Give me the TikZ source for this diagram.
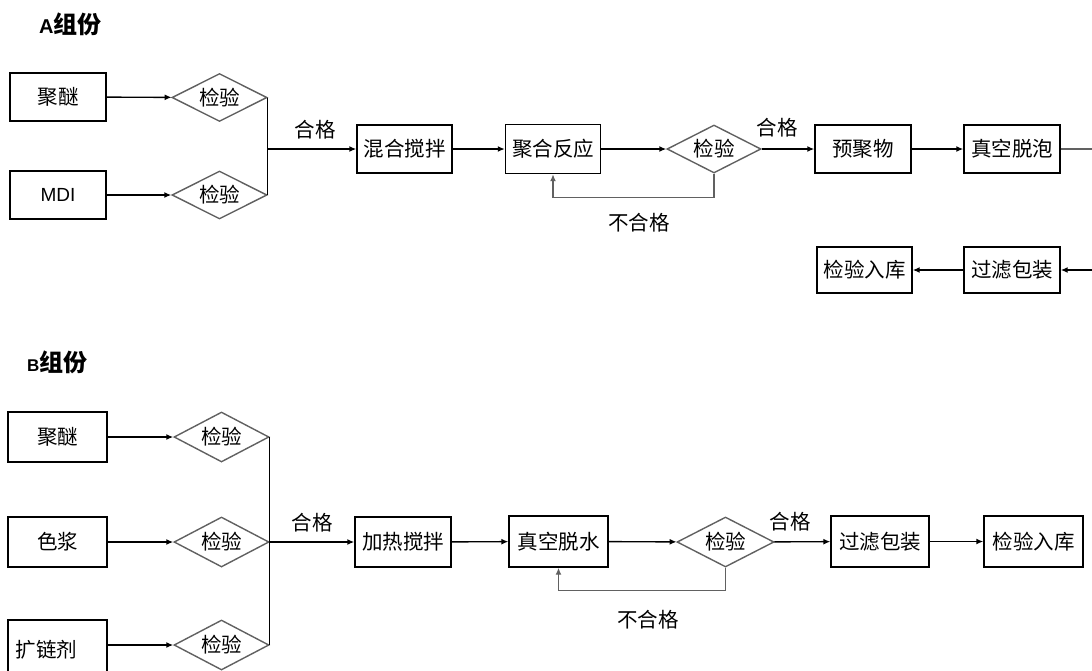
\documentclass[tikz,border=0pt]{standalone}
\usepackage{fontspec}
\setmainfont{Noto Sans CJK SC}
\newfontfamily\lat{Liberation Sans}
\usetikzlibrary{shapes.geometric,arrows.meta}
\begin{document}
\begin{tikzpicture}[x=1pt,y=-1pt,
  box/.style={draw=black,line width=1.4pt,minimum width=96pt,minimum height=48pt,inner sep=0pt,font=\fontsize{20.5}{24}\selectfont},
  chk/.style={diamond,draw=black!62,line width=1.4pt,aspect=2,minimum width=95pt,minimum height=48pt,inner sep=0pt,font=\fontsize{20.5}{24}\selectfont},
  lbl/.style={font=\fontsize{20.5}{24}\selectfont,inner sep=0pt},
  ttl/.style={font=\bfseries\fontsize{24}{28}\selectfont,inner sep=0pt,anchor=west},
  ar/.style={-{Latex[length=7pt,width=6pt]},line width=1.4pt},
  ln/.style={line width=1.4pt},
  fb/.style={ar,draw=black!62},
]
\useasboundingbox (0,0) rectangle (1092,670);
\fill[white] (0,0) rectangle (1092,670);

% ---------- A ----------
\node[ttl] (tA) at (39,24) {{\lat\fontsize{20}{22}\selectfont A}组份};
\node[box] (pA) at (58,97) {聚醚};
\node[box] (mA) at (58,195) {\lat\fontsize{19}{22}\selectfont MDI};
\node[chk] (cA1) at (219.5,97.5) {检验};
\node[chk] (cA2) at (219.5,195) {检验};
\node[box,minimum width=95pt] (hA) at (404.5,149) {混合搅拌};
\node[box,minimum width=95pt,minimum height=49pt] (jA) at (553,149) {聚合反应};
\node[chk,minimum width=94pt] (cA3) at (714,149) {检验};
\node[box] (yA) at (863,149) {预聚物};
\node[box] (zA) at (1012,149) {真空脱泡};
\node[box,minimum height=46pt] (gA) at (1012,270) {过滤包装};
\node[box,minimum height=46pt,minimum width=95pt] (rA) at (864.5,270) {检验入库};
\coordinate (eA1) at (1092,149);
\coordinate (eA2) at (1092,270);
\node[lbl] (qA1) at (315,130) {合格};
\node[lbl] (qA2) at (777,128) {合格};
\node[lbl] (nA) at (639,223) {不合格};

\draw[ar] (pA) -- (cA1);
\draw[ar] (mA) -- (cA2);
\draw[ln] (cA1.east) -- (cA2.east);
\draw[ar] (cA1.east |- hA) -- (hA);
\draw[ar] (hA) -- (jA);
\draw[ar] (jA) -- (cA3);
\draw[fb] (cA3.south) -- ++(0,24) -| (jA.south);
\draw[ar] (cA3) -- (yA);
\draw[ar] (yA) -- (zA);
\draw[ln,draw=black!62] (zA) -- (eA1);
\draw[ar] (eA2) -- (gA);
\draw[ar] (gA) -- (rA);

% ---------- B ----------
\node[ttl] (tB) at (27,362) {{\lat\fontsize{17}{20}\selectfont B}组份};
\node[box,minimum width=99pt,minimum height=50pt] (pB) at (57.5,437) {聚醚};
\node[box,minimum width=99pt,minimum height=50pt] (sB) at (57.5,542) {色浆};
\node[box,minimum width=99pt,minimum height=60pt,text width=83pt,inner xsep=8pt,align=left] (kB) at (57.5,650) {扩链剂};
\node[chk,minimum height=50pt] (cB1) at (221.5,437) {检验};
\node[chk,minimum height=50pt] (cB2) at (221.5,542) {检验};
\node[chk,minimum height=50pt] (cB3) at (221.5,645) {检验};
\node[box,minimum height=50pt] (hB) at (403,542) {加热搅拌};
\node[box,minimum width=99pt,minimum height=51pt] (zB) at (558.5,541.5) {真空脱水};
\node[chk,minimum width=97pt,minimum height=50pt] (cB4) at (725.5,542) {检验};
\node[box,minimum width=98pt,minimum height=51pt] (gB) at (880,541.5) {过滤包装};
\node[box,minimum width=99pt,minimum height=51pt] (rB) at (1033.5,541.5) {检验入库};
\node[lbl] (qB1) at (312,523) {合格};
\node[lbl] (qB2) at (790,522) {合格};
\node[lbl] (nB) at (648,620) {不合格};

\draw[ar] (pB) -- (cB1);
\draw[ar] (sB) -- (cB2);
\draw[ar] (kB.east |- cB3) -- (cB3);
\draw[ln] (cB1.east) -- (cB3.east);
\draw[ar] (cB2.east) -- (hB);
\draw[ar] (hB) -- (zB);
\draw[ar] (zB) -- (cB4);
\draw[fb] (cB4.south) -- ++(0,23) -| (zB.south);
\draw[ar] (cB4) -- (gB);
\draw[ar] (gB) -- (rB);
\end{tikzpicture}
\end{document}
